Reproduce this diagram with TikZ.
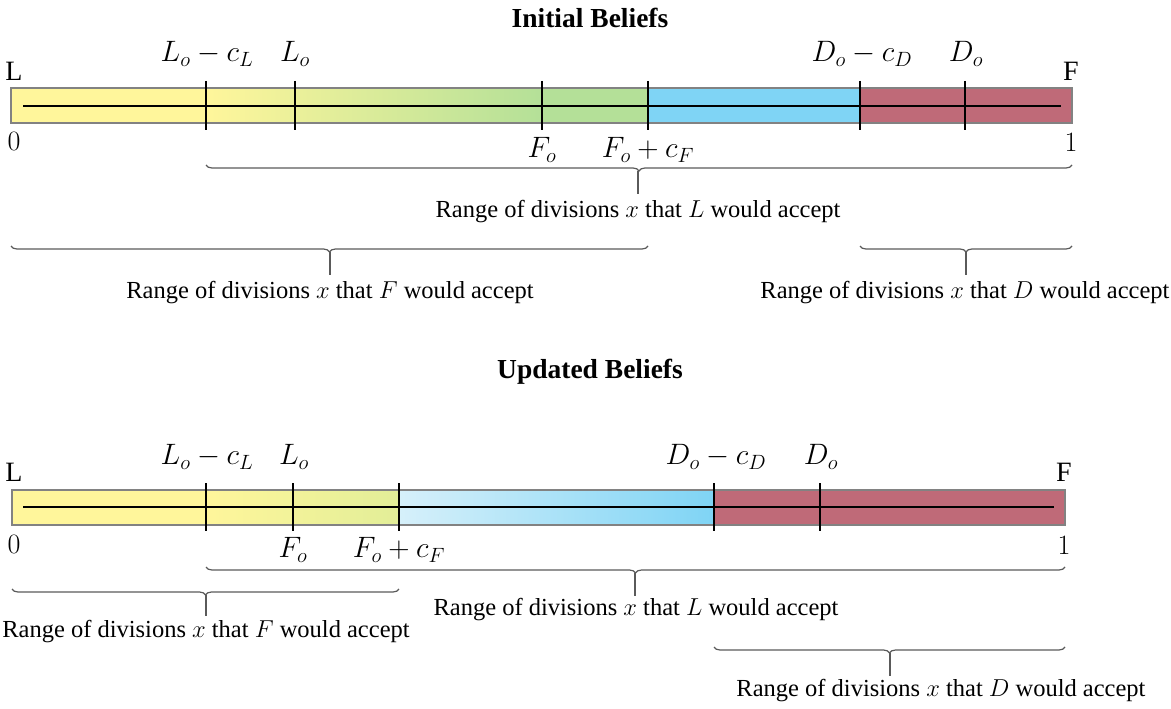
\RequirePackage{fix-cm}
\documentclass[tikz,border=0pt]{standalone}
\usepackage{fontspec}
\setmainfont{Liberation Serif}
\usetikzlibrary{decorations.pathreplacing}
\definecolor{cYel}{RGB}{255,246,155}
\definecolor{cGrn}{RGB}{180,224,152}
\definecolor{cBlu}{RGB}{127,212,245}
\definecolor{cBluL}{RGB}{214,240,250}
\definecolor{cYG}{RGB}{226,238,152}
\definecolor{cRed}{RGB}{191,106,120}
\definecolor{cFrame}{RGB}{130,130,130}
\definecolor{cBrace}{RGB}{90,90,90}
\tikzset{
  barframe/.style={draw=cFrame, line width=1.2pt},
  axisline/.style={draw=black, line width=1.6pt},
  tickline/.style={draw=black, line width=1.3pt},
  bracepath/.style={draw=cBrace, line width=1.2pt, decorate,
    decoration={brace, mirror, amplitude=6pt}},
  stemline/.style={draw=cBrace, line width=1.2pt},
  lbl/.style={inner sep=1pt},
  mlbl/.style={inner sep=1pt, font=\fontsize{29.5}{32}\selectfont},
  elbl/.style={inner sep=1pt, font=\fontsize{28}{31}\selectfont},
  ttl/.style={inner sep=1pt, font=\fontsize{27.5}{30}\selectfont\bfseries},
}
\begin{document}
\begin{tikzpicture}[x=1pt,y=-1pt, font=\fontsize{24.5}{28}\selectfont]
\useasboundingbox (0,0) rectangle (1171,709);

% ---------------- Initial Beliefs ----------------
\node[ttl] (t1) at (590,18) {Initial Beliefs};

\fill[cYel] (11,88) rectangle (206,123);
\shade[left color=cYel, right color=cGrn] (206,88) rectangle (542,123);
\fill[cGrn] (542,88) rectangle (648,123);
\fill[cBlu] (648,88) rectangle (860,123);
\fill[cRed] (860,88) rectangle (1072,123);
\draw[barframe] (11,88) rectangle (1072,123);
\coordinate (a1s) at (23,106);
\coordinate (a1e) at (1061,106);
\draw[axisline] (a1s) -- (a1e);
\foreach \x/\n in {206/tA,295/tB,542/tC,648/tD,860/tE,965/tF}{
  \coordinate (\n1t) at (\x,81);
  \coordinate (\n1b) at (\x,130);
  \draw[tickline] (\n1t) -- (\n1b);
}

\node[elbl] (L1) at (14,71) {$\mathrm{L}$};
\node[elbl] (z1) at (14,141) {$0$};
\node[elbl] (F1) at (1071,71) {$\mathrm{F}$};
\node[elbl] (o1) at (1071,142) {$1$};
\node[mlbl] (lLc1) at (207,54) {$L_o-c_L$};
\node[mlbl] (lL1) at (295,54) {$L_o$};
\node[mlbl] (lDc1) at (862,54) {$D_o-c_D$};
\node[mlbl] (lD1) at (966,54) {$D_o$};
\node[mlbl] (lF1) at (542,150) {$F_o$};
\node[mlbl] (lFc1) at (648,150) {$F_o+c_F$};

% braces
\draw[bracepath] (206,165) -- (1072,165);
\coordinate (bL1t) at (638,171);
\coordinate (bL1s) at (638,194);
\draw[stemline] (bL1t) -- (bL1s);
\node[lbl] (rL1) at (638,212) {Range of divisions $x$ that $L$ would accept};

\draw[bracepath] (11,246) -- (648,246);
\coordinate (bF1t) at (330,252);
\coordinate (bF1s) at (330,275);
\draw[stemline] (bF1t) -- (bF1s);
\node[lbl] (rF1) at (330,293) {Range of divisions $x$ that $F$ would accept};

\draw[bracepath] (860,246) -- (1072,246);
\coordinate (bD1t) at (966,252);
\coordinate (bD1s) at (966,275);
\draw[stemline] (bD1t) -- (bD1s);
\node[lbl] (rD1) at (965,293) {Range of divisions $x$ that $D$ would accept};

% ---------------- Updated Beliefs ----------------
\node[ttl] (t2) at (590,372) {Updated Beliefs};

\fill[cYel] (12,490) rectangle (206,525);
\shade[left color=cYel, right color=cYG] (206,490) rectangle (399,525);
\shade[left color=cBluL, right color=cBlu] (399,490) rectangle (714,525);
\fill[cRed] (714,490) rectangle (1065,525);
\draw[barframe] (12,490) rectangle (1065,525);
\coordinate (a2s) at (23,507);
\coordinate (a2e) at (1054,507);
\draw[axisline] (a2s) -- (a2e);
\foreach \x/\n in {206/tA,293/tB,399/tC,714/tD,820/tE}{
  \coordinate (\n2t) at (\x,483);
  \coordinate (\n2b) at (\x,531);
  \draw[tickline] (\n2t) -- (\n2b);
}

\node[elbl] (L2) at (14,472) {$\mathrm{L}$};
\node[elbl] (z2) at (14,544) {$0$};
\node[elbl] (F2) at (1064,472) {$\mathrm{F}$};
\node[elbl] (o2) at (1064,545) {$1$};
\node[mlbl] (lLc2) at (207,457) {$L_o-c_L$};
\node[mlbl] (lL2) at (294,457) {$L_o$};
\node[mlbl] (lDc2) at (716,457) {$D_o-c_D$};
\node[mlbl] (lD2) at (821,457) {$D_o$};
\node[mlbl] (lF2) at (293,550) {$F_o$};
\node[mlbl] (lFc2) at (399,550) {$F_o+c_F$};

\draw[bracepath] (206,567) -- (1065,567);
\coordinate (bL2t) at (635,573);
\coordinate (bL2s) at (635,596);
\draw[stemline] (bL2t) -- (bL2s);
\node[lbl] (rL2) at (636,610) {Range of divisions $x$ that $L$ would accept};

\draw[bracepath] (12,589) -- (399,589);
\coordinate (bF2t) at (206,595);
\coordinate (bF2s) at (206,616);
\draw[stemline] (bF2t) -- (bF2s);
\node[lbl] (rF2) at (206,632) {Range of divisions $x$ that $F$ would accept};

\draw[bracepath] (714,647) -- (1065,647);
\coordinate (bD2t) at (890,653);
\coordinate (bD2s) at (890,676);
\draw[stemline] (bD2t) -- (bD2s);
\node[lbl] (rD2) at (941,691) {Range of divisions $x$ that $D$ would accept};
\end{tikzpicture}
\end{document}
